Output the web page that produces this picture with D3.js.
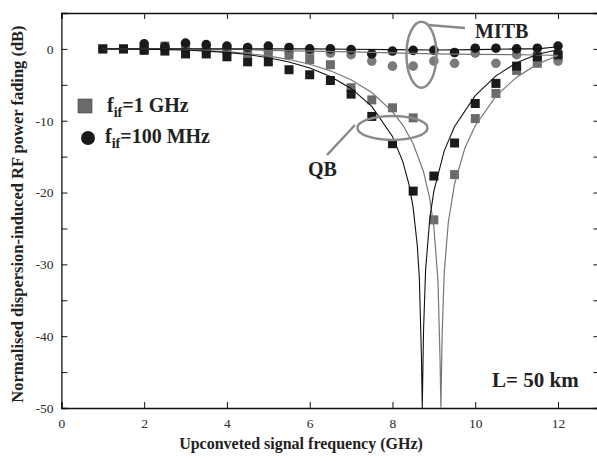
<!DOCTYPE html>
<html>
<head>
<meta charset="utf-8">
<script src="https://cdn.jsdelivr.net/npm/d3@7"></script>
<style>
body { margin: 0; background: #fff; }
text { font-family: "Liberation Serif", "Times New Roman", serif; }
.tick text { font-size: 13.5px; fill: #2a2a2a; }
</style>
</head>
<body>
<div id="chart"></div>
<script>
// measured points (GHz, dB)
var freq = [1, 1.5, 2, 2.5, 3, 3.5, 4, 4.5, 5, 5.5, 6, 6.5, 7, 7.5, 8, 8.5, 9, 9.5, 10, 10.5, 11, 11.5, 12];
var qbBlack = [0, 0, -0.2, -0.3, -0.7, -0.7, -1.1, -1.8, -1.8, -2.9, -3.6, -4.4, -6.3, -9.4, -13.2, -19.8, -17.7, -13.1, -7.6, -4.8, -2.4, -1.1, -0.8];
var qbGray = [0, 0, 0, 0.4, 0, 0, -0.2, -0.5, -0.5, -0.8, -1.5, -2.2, -5.4, -7.1, -8.2, -9.6, -23.8, -17.5, -9.7, -6.2, -3.0, -2.0, -1.0];

var freqC = [2, 2.5, 3, 3.5, 4, 4.5, 5, 5.5, 6, 6.5, 7, 7.5, 8, 8.5, 9, 9.5, 10, 10.5, 11, 11.5, 12];
var mitbBlack = [0.7, 0.3, 0.8, 0.6, 0.4, 0.2, 0.4, 0.2, 0, 0, -0.1, -0.7, -0.3, -0.2, -0.2, -0.5, 0.1, 0.1, 0, 0.1, 0.4];
var mitbGray = [0, 0.1, 0, 0, -0.1, -0.1, -0.3, -0.4, -0.6, -0.6, -0.8, -1.7, -2.4, -2.4, -1.7, -2.0, -0.6, -2.0, -0.8, -1.2, -1.7];

// theory curves
var qbLineBlackF = [1, 2, 3, 4, 4.5, 5, 5.5, 6, 6.5, 7, 7.5, 8, 8.25, 8.4, 8.5, 8.6, 8.65, 8.7, 8.72, 8.75, 8.8, 8.9, 9, 9.25, 9.5, 10, 10.5, 11, 11.5, 12];
var qbLineBlack = [0, -0.03, -0.15, -0.48, -0.78, -1.22, -1.82, -2.66, -3.84, -5.5, -8.0, -12.2, -15.7, -18.9, -22.1, -27.4, -32, -42.9, -50, -39.3, -30.8, -23.7, -19.8, -14.2, -10.8, -6.5, -3.75, -1.93, -0.75, -0.12];
var qbLineGrayF = [1, 2, 3, 4, 4.5, 5, 5.5, 6, 6.5, 7, 7.5, 8, 8.25, 8.5, 8.75, 8.9, 9, 9.1, 9.15, 9.17, 9.2, 9.25, 9.35, 9.5, 9.75, 10, 10.5, 11, 11.5, 12];
var qbLineGray = [0, -0.03, -0.12, -0.39, -0.64, -0.98, -1.48, -2.13, -3.05, -4.3, -6.08, -8.72, -10.6, -13.2, -17.1, -20.8, -24.8, -32.4, -43.3, -50, -39.8, -31.2, -24.1, -18.8, -13.8, -10.7, -6.57, -3.93, -2.12, -0.92];
var mitbLineF = [1, 4, 5, 6, 7, 8, 9, 10, 11, 11.5, 12];
var mitbLineBlack = [0, 0, 0, 0, -0.05, -0.1, -0.15, -0.1, 0, 0, 0.3];
var mitbLineGray = [0, -0.05, -0.2, -0.3, -0.4, -0.55, -0.7, -0.75, -0.8, -0.85, -0.9];

var xTicks = [0, 2, 4, 6, 8, 10, 12];
var yMinor = [0, -5, -10, -15, -20, -25, -30, -35, -40, -45, -50];

var width = 597, height = 461;
var pLeft = 61.4, pRight = 599.4, pTop = 13, pBottom = 408;

var svg = d3.select('#chart').append('svg')
    .attr('width', width).attr('height', height);

var x = d3.scaleLinear().domain([0, 13]).range([pLeft, pRight]);
var y = d3.scaleLinear().domain([-50, 5]).range([pBottom, pTop]);

svg.append('clipPath').attr('id', 'plot')
    .append('rect').attr('x', pLeft).attr('y', pTop)
    .attr('width', pRight - pLeft).attr('height', pBottom - pTop);

var black = '#1a1a1a', gray = '#6b6b6b', grayC = '#7a7a7a';

// axes, ticks pointing inward
svg.append('g').attr('transform', 'translate(0,' + pBottom + ')')
    .call(d3.axisBottom(x).tickValues(xTicks).tickSize(-6).tickPadding(10).tickFormat(d3.format('d')));
svg.append('g').attr('transform', 'translate(0,' + pTop + ')')
    .call(d3.axisTop(x).tickValues(xTicks).tickSize(-6).tickFormat(''));
svg.append('g').attr('transform', 'translate(' + pLeft + ',0)')
    .call(d3.axisLeft(y).tickValues(yMinor).tickSize(-6).tickPadding(8)
        .tickFormat(function(d){ return d % 10 === 0 ? d : ''; }));
svg.append('g').attr('transform', 'translate(' + pRight + ',0)')
    .call(d3.axisRight(y).tickValues(yMinor).tickSize(-6).tickFormat(''));
svg.selectAll('.domain').attr('stroke', '#111').attr('stroke-width', 1.3);
svg.selectAll('.tick line').attr('stroke', '#111');

var plot = svg.append('g').attr('clip-path', 'url(#plot)');

function pts(fs, vs) { return fs.map(function(f, i){ return [f, vs[i]]; }); }

// markers
function squares(fs, vs, col) {
    plot.append('g').selectAll('rect').data(pts(fs, vs)).enter().append('rect')
        .attr('x', function(d){ return x(d[0]) - 4.5; })
        .attr('y', function(d){ return y(d[1]) - 4.5; })
        .attr('width', 9).attr('height', 9)
        .attr('fill', col);
}
function circles(fs, vs, col) {
    plot.append('g').selectAll('circle').data(pts(fs, vs)).enter().append('circle')
        .attr('cx', function(d){ return x(d[0]); })
        .attr('cy', function(d){ return y(d[1]); })
        .attr('r', 4.8)
        .attr('fill', col);
}
circles(freqC, mitbGray, grayC);
squares(freq, qbGray, gray);
circles(freqC, mitbBlack, black);
squares(freq, qbBlack, black);

// lines
var line = d3.line().x(function(d){ return x(d[0]); }).y(function(d){ return y(d[1]); });
function drawLine(fs, vs, col, w) {
    plot.append('path').datum(pts(fs, vs)).attr('d', line)
        .attr('fill', 'none').attr('stroke', col).attr('stroke-width', w);
}
drawLine(mitbLineF, mitbLineGray, '#777', 1.2);
drawLine(mitbLineF, mitbLineBlack, '#111', 1.2);
drawLine(qbLineGrayF, qbLineGray, '#777', 1.2);
drawLine(qbLineBlackF, qbLineBlack, '#111', 1.1);

// annotations
var ann = '#8a8a8a';
svg.append('ellipse').attr('cx', x(8.7)).attr('cy', y(-0.8))
    .attr('rx', 15).attr('ry', 33)
    .attr('fill', 'none').attr('stroke', ann).attr('stroke-width', 2.5);
svg.append('line').attr('x1', 428).attr('y1', 25).attr('x2', 465).attr('y2', 28)
    .attr('stroke', ann).attr('stroke-width', 2.5);
svg.append('text').attr('x', 475).attr('y', 38).text('MITB')
    .attr('font-size', 20).attr('font-weight', 'bold').attr('fill', '#222');

svg.append('ellipse').attr('cx', x(8.0)).attr('cy', y(-11))
    .attr('rx', 35).attr('ry', 12)
    .attr('fill', 'none').attr('stroke', ann).attr('stroke-width', 2.5);
svg.append('line').attr('x1', 355).attr('y1', 125).attr('x2', 327).attr('y2', 155)
    .attr('stroke', ann).attr('stroke-width', 2.5);
svg.append('text').attr('x', 308).attr('y', 176).text('QB')
    .attr('font-size', 20).attr('font-weight', 'bold').attr('fill', '#222');

// legend
svg.append('rect').attr('x', 78).attr('y', 99).attr('width', 14).attr('height', 14)
    .attr('fill', gray).attr('stroke', '#444').attr('stroke-width', 0.6);
svg.append('circle').attr('cx', 88).attr('cy', 138).attr('r', 7).attr('fill', black);
var lg1 = svg.append('text').attr('x', 107).attr('y', 112)
    .attr('font-size', 20).attr('font-weight', 'bold').attr('fill', '#222');
lg1.append('tspan').text('f');
lg1.append('tspan').attr('dy', 5).attr('font-size', 14).text('if');
lg1.append('tspan').attr('dy', -5).text('=1 GHz');
var lg2 = svg.append('text').attr('x', 105).attr('y', 143)
    .attr('font-size', 20).attr('font-weight', 'bold').attr('fill', '#222');
lg2.append('tspan').text('f');
lg2.append('tspan').attr('dy', 5).attr('font-size', 14).text('if');
lg2.append('tspan').attr('dy', -5).text('=100 MHz');

svg.append('text').attr('x', 492).attr('y', 387).text('L= 50 km')
    .attr('font-size', 21).attr('font-weight', 'bold').attr('fill', '#222');

// axis titles
svg.append('text').attr('x', 301).attr('y', 449).attr('text-anchor', 'middle')
    .text('Upconveted signal frequency (GHz)')
    .attr('font-size', 16).attr('font-weight', 'bold').attr('fill', '#222');
svg.append('text').attr('transform', 'translate(23,' + 214 + ')rotate(-90)')
    .attr('text-anchor', 'middle')
    .text('Normalised dispersion-induced RF power fading (dB)')
    .attr('font-size', 16.5).attr('font-weight', 'bold').attr('fill', '#222');
</script>
</body>
</html>
